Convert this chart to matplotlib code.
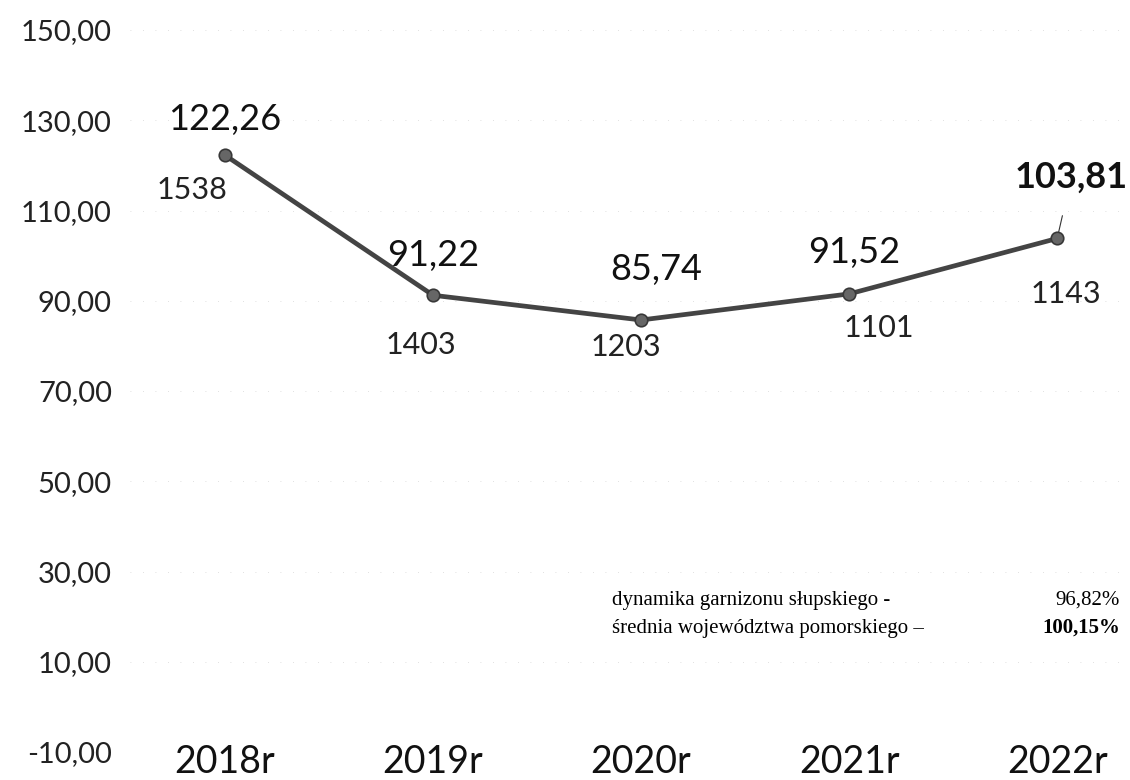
import matplotlib.pyplot as plt

years = ['2018r', '2019r', '2020r', '2021r', '2022r']
dynamics = [122.26, 91.22, 85.74, 91.52, 103.81]
counts = [1538, 1403, 1203, 1101, 1143]
y_ticks = [-10, 10, 30, 50, 70, 90, 110, 130, 150]

# label offsets in pixels (value label, count label)
val_off = [(0, 36), (0, 40), (15, 50), (5, 41), (14, 61)]
cnt_off = [(-33, -35), (-12, -50), (-15, -27), (30, -34), (9, -56)]

plt.rcParams['font.family'] = ['Lato', 'DejaVu Sans']

fig = plt.figure(figsize=(11.3, 7.8), dpi=100)
ax = fig.add_axes([0.115, 0.0359, 0.885, 0.9256])

xs = list(range(len(years)))
ax.plot(xs, dynamics, color='#444444', lw=3.4, marker='o', markersize=9,
        markerfacecolor='#666666', markeredgecolor='#383838', markeredgewidth=1.2,
        zorder=3)

def fmt(v):
    return f'{v:.2f}'.replace('.', ',')

for i, (v, c) in enumerate(zip(dynamics, counts)):
    last = i == len(dynamics) - 1
    ax.annotate(fmt(v), (i, v), xytext=val_off[i], textcoords='offset pixels',
                ha='center', va='center', fontsize=26, color='#111111',
                fontweight='bold' if last else 'normal',
                arrowprops=dict(arrowstyle='-', lw=0.8, color='#333333',
                                shrinkA=14, shrinkB=5) if last else None)
    ax.annotate(str(c), (i, v), xytext=cnt_off[i], textcoords='offset pixels',
                ha='center', va='center', fontsize=22, color='#222222')

ax.set_xlim(-0.457, 4.35)
ax.set_ylim(-10, 150)
ax.set_yticks(y_ticks)
ax.set_yticklabels([fmt(t) for t in y_ticks], fontsize=21, color='#222222')
ax.set_xticks(xs)
ax.set_xticklabels(years, fontsize=27, color='#111111')
ax.tick_params(axis='y', length=0, pad=13)
ax.tick_params(axis='x', length=0, pad=-6)
for s in ax.spines.values():
    s.set_visible(False)
ax.grid(axis='y', color='#bbbbbb', lw=0.6, linestyle=(0, (1, 14)), alpha=0.6)
ax.set_axisbelow(True)

# summary text
ax.text(0.482, 0.2105, 'dynamika garnizonu słupskiego -', transform=ax.transAxes,
        family='Liberation Serif', fontsize=15, va='center', ha='left')
ax.text(0.99, 0.2105, '96,82%', transform=ax.transAxes,
        family='Liberation Serif', fontsize=15, va='center', ha='right')
ax.text(0.482, 0.1717, 'średnia województwa pomorskiego –', transform=ax.transAxes,
        family='Liberation Serif', fontsize=15, va='center', ha='left')
ax.text(0.99, 0.1717, '100,15%', transform=ax.transAxes,
        family='Liberation Serif', fontsize=15, fontweight='bold', va='center', ha='right')

fig.savefig('out.png', dpi=100, facecolor='white')
